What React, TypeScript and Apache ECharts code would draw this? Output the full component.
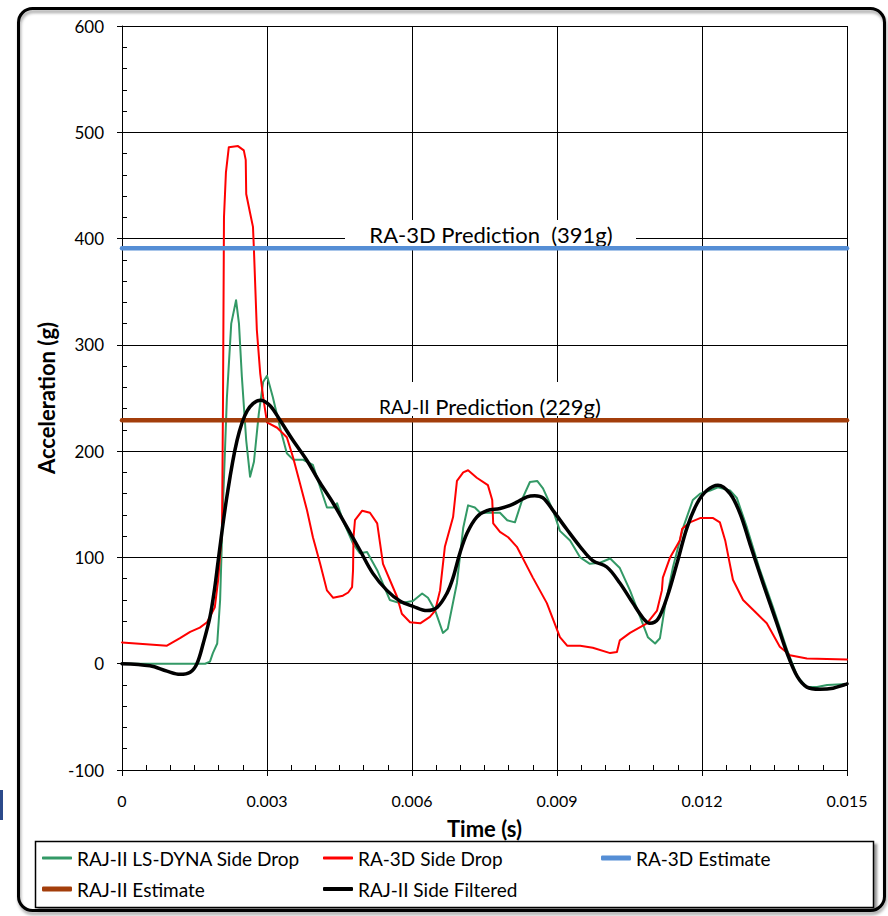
import React, { useEffect, useRef } from "react";
import * as echarts from "echarts";

// ---- Data (time in s, acceleration in g) ----
const xTickValues = [0, 0.003, 0.006, 0.009, 0.012, 0.015];
const yTickValues = [-100, 0, 100, 200, 300, 400, 500, 600];

const greenT = [0, 0.00172, 0.00182, 0.00188, 0.00197, 0.00203, 0.00209, 0.00217, 0.00226, 0.00236, 0.00242, 0.00248, 0.00257, 0.00265, 0.00273, 0.00283, 0.00292, 0.003, 0.00312, 0.00327, 0.00341, 0.00354, 0.00374, 0.00395, 0.0041, 0.00424, 0.00437, 0.00445, 0.00457, 0.00478, 0.00492, 0.00507, 0.00528, 0.00554, 0.00575, 0.00602, 0.00621, 0.00633, 0.00648, 0.00664, 0.00674, 0.00693, 0.00706, 0.00716, 0.0073, 0.00741, 0.00761, 0.00782, 0.00797, 0.00813, 0.0083, 0.00844, 0.00859, 0.00871, 0.00892, 0.00906, 0.00927, 0.00948, 0.00968, 0.00989, 0.0101, 0.0103, 0.01051, 0.01072, 0.01088, 0.01103, 0.01113, 0.01123, 0.0114, 0.01161, 0.01181, 0.01196, 0.01217, 0.01233, 0.01258, 0.01272, 0.01293, 0.0132, 0.01347, 0.01376, 0.01397, 0.01417, 0.01438, 0.01459, 0.015];
const greenV = [0, 0, 2, 10, 19, 60, 150, 250, 320, 342, 320, 270, 210, 176, 190, 235, 265, 271, 251, 222, 198, 192, 192, 187, 166, 147, 147, 151, 135, 113, 104, 105, 88, 60, 57, 59, 66, 62, 50, 29, 33, 76, 128, 149, 147, 142, 142, 142, 135, 133, 157, 171, 172, 165, 144, 125, 116, 100, 94, 95, 99, 90, 69, 44, 25, 19, 24, 53, 91, 128, 154, 160, 163, 166, 163, 156, 128, 88, 53, 13, -12, -22, -22, -20, -19];

const redT = [0, 0.00093, 0.0012, 0.00141, 0.00161, 0.00176, 0.00192, 0.00199, 0.00207, 0.00209, 0.00211, 0.00215, 0.00221, 0.0024, 0.00252, 0.00256, 0.00257, 0.00265, 0.00271, 0.00273, 0.00279, 0.00286, 0.00292, 0.003, 0.00321, 0.00341, 0.00354, 0.00368, 0.00383, 0.00395, 0.0041, 0.00424, 0.00437, 0.00457, 0.00468, 0.00476, 0.00478, 0.00479, 0.00482, 0.00497, 0.00513, 0.00528, 0.00534, 0.0054, 0.00554, 0.00569, 0.00579, 0.00596, 0.00617, 0.00637, 0.00648, 0.00658, 0.00668, 0.00685, 0.00693, 0.00706, 0.00716, 0.00734, 0.00757, 0.00766, 0.00768, 0.00782, 0.00799, 0.00817, 0.0085, 0.00879, 0.00906, 0.00921, 0.00948, 0.00974, 0.0101, 0.01024, 0.0103, 0.01051, 0.01086, 0.01107, 0.01117, 0.01119, 0.01134, 0.01154, 0.01159, 0.01175, 0.01196, 0.01223, 0.01237, 0.01248, 0.01264, 0.01285, 0.01314, 0.01334, 0.01361, 0.01382, 0.01417, 0.015];
const redV = [20, 17, 24, 30, 34, 39, 53, 79, 126, 250, 420, 462, 486, 487, 483, 474, 442, 424, 411, 389, 314, 273, 251, 227, 222, 213, 194, 170, 144, 119, 94, 69, 62, 64, 67, 72, 88, 119, 135, 144, 142, 132, 113, 94, 79, 63, 47, 39, 38, 44, 50, 69, 110, 138, 172, 180, 182, 175, 168, 154, 132, 124, 119, 110, 81, 57, 25, 17, 17, 15, 10, 11, 22, 29, 38, 50, 69, 81, 100, 116, 127, 133, 137, 137, 133, 116, 79, 60, 47, 38, 16, 8, 5, 4];

const blackT = [0, 0.00058, 0.00093, 0.0012, 0.00141, 0.00155, 0.00168, 0.00182, 0.00192, 0.00199, 0.00217, 0.00238, 0.00259, 0.00286, 0.00306, 0.00327, 0.00354, 0.00383, 0.0041, 0.00437, 0.00466, 0.00492, 0.00519, 0.00548, 0.00575, 0.00602, 0.00631, 0.00652, 0.00672, 0.00685, 0.00699, 0.00714, 0.00734, 0.00755, 0.00782, 0.00803, 0.00817, 0.00838, 0.00854, 0.00871, 0.00892, 0.00921, 0.00948, 0.00974, 0.01003, 0.0103, 0.01057, 0.01078, 0.01092, 0.01109, 0.01128, 0.01148, 0.01169, 0.0119, 0.0121, 0.01233, 0.01258, 0.01279, 0.01299, 0.01326, 0.01355, 0.01376, 0.01397, 0.01417, 0.01444, 0.01471, 0.015];
const blackV = [0, -2, -7, -10, -8, 0, 19, 44, 72, 97, 157, 210, 238, 248, 243, 229, 210, 191, 170, 151, 128, 107, 85, 69, 59, 54, 50, 53, 66, 81, 104, 123, 138, 144, 146, 149, 152, 157, 158, 156, 144, 126, 110, 97, 91, 76, 57, 43, 38, 42, 63, 94, 128, 151, 163, 168, 160, 141, 113, 76, 38, 10, -12, -22, -24, -23, -19];

const ra3dEstimate = 391;
const rajEstimate = 229;

const seriesNames = [
  "RAJ-II LS-DYNA Side Drop",
  "RA-3D Side Drop",
  "RA-3D Estimate",
  "RAJ-II Estimate",
  "RAJ-II Side Filtered",
];
const seriesColors = ["#339966", "#ff0000", "#558ED5", "#A33E0B", "#000000"];

const zip = (t: number[], v: number[]) => t.map((x, i) => [x, v[i]]);

export default function App() {
  const ref = useRef<HTMLDivElement>(null);
  useEffect(() => {
    if (!ref.current) return;
    const chart = echarts.init(ref.current, undefined, { renderer: "svg" });
    const font = "Lato";
    const xMin = xTickValues[0];
    const xMax = xTickValues[xTickValues.length - 1];
    const yMin = yTickValues[0];
    const yMax = yTickValues[yTickValues.length - 1];

    const lineSeries = (i: number, data: number[][], width: number, smooth: number | boolean) => ({
      name: seriesNames[i],
      type: "line",
      data,
      symbol: "none",
      showSymbol: false,
      smooth,
      color: seriesColors[i],
      itemStyle: { color: seriesColors[i] },
      lineStyle: { color: seriesColors[i], width, join: "round", cap: "round" },
      z: 2 + i,
    });

    const legendItem = (i: number, left: number, top: number, h: number) => ({
      show: true,
      data: [{ name: seriesNames[i], icon: "roundRect" }],
      left,
      top,
      padding: 0,
      itemWidth: 30,
      itemHeight: h,
      selectedMode: false,
      textStyle: { fontFamily: font, fontSize: 19, color: "#000", lineHeight: 20 },
    });

    const option: any = {
      animation: false,
      backgroundColor: "#ffffff",
      grid: { left: 122, right: 41, top: 26, bottom: 146, containLabel: false },
      xAxis: [
        {
          type: "value",
          min: xMin,
          max: xMax,
          interval: 0.003,
          position: "bottom",
          axisLine: { show: true, onZero: false, lineStyle: { color: "#000", width: 1 } },
          axisTick: { show: true, inside: true, length: 5, lineStyle: { color: "#000" } },
          minorTick: { show: true, splitNumber: 6, length: 5, lineStyle: { color: "#000" } },
          splitLine: { show: true, lineStyle: { color: "#000", width: 1 } },
          axisLabel: {
            margin: 22,
            fontFamily: font,
            fontSize: 16,
            color: "#000",
            formatter: (v: number) => (Math.abs(v) < 1e-12 ? "0" : v.toFixed(3)),
          },
          name: "Time (s)",
          nameLocation: "middle",
          nameGap: 47,
          nameTextStyle: { fontFamily: font, fontSize: 22, fontWeight: "bold", color: "#000" },
        },
        {
          type: "value",
          min: xMin,
          max: xMax,
          interval: 0.003,
          position: "bottom",
          axisLine: { show: false, onZero: false },
          axisTick: { show: true, inside: false, length: 6, lineStyle: { color: "#000" } },
          axisLabel: { show: false },
          splitLine: { show: false },
        },
      ],
      yAxis: [
        {
          type: "value",
          min: yMin,
          max: yMax,
          interval: 100,
          position: "left",
          axisLine: { show: true, onZero: false, lineStyle: { color: "#000", width: 1 } },
          axisTick: { show: true, inside: true, length: 5, lineStyle: { color: "#000" } },
          minorTick: { show: true, splitNumber: 5, length: 5, lineStyle: { color: "#000" } },
          splitLine: { show: true, lineStyle: { color: "#000", width: 1 } },
          axisLabel: { margin: 18, fontFamily: font, fontSize: 17, color: "#000" },
          name: "Acceleration (g)",
          nameLocation: "middle",
          nameGap: 62,
          nameTextStyle: { fontFamily: font, fontSize: 22, fontWeight: "bold", color: "#000" },
        },
        {
          type: "value",
          min: yMin,
          max: yMax,
          interval: 100,
          position: "left",
          axisLine: { show: false, onZero: false },
          axisTick: { show: true, inside: false, length: 5, lineStyle: { color: "#000" } },
          axisLabel: { show: false },
          splitLine: { show: false },
        },
      ],
      legend: [
        legendItem(0, 42, 848, 3),
        legendItem(1, 323, 848, 3),
        legendItem(2, 601, 848, 5),
        legendItem(3, 42, 879, 5),
        legendItem(4, 323, 879, 4),
      ],
      graphic: [
        {
          type: "rect",
          silent: true,
          z: -1,
          shape: { x: 18.5, y: 8.5, width: 866, height: 902, r: 14 },
          style: {
            fill: "none",
            stroke: "#000",
            lineWidth: 3,
            shadowBlur: 3,
            shadowOffsetX: 1,
            shadowOffsetY: 3,
            shadowColor: "rgba(0,0,0,0.35)",
          },
        },
        {
          type: "rect",
          silent: true,
          z: 1,
          shape: { x: 35.5, y: 841.5, width: 838, height: 66 },
          style: {
            fill: "#fff",
            stroke: "#000",
            lineWidth: 1.5,
            shadowBlur: 2,
            shadowOffsetX: 3,
            shadowOffsetY: 3,
            shadowColor: "rgba(0,0,0,0.4)",
          },
        },
        {
          type: "rect",
          silent: true,
          z: 1,
          shape: { x: 0, y: 790, width: 3, height: 30 },
          style: { fill: "#2B4A8B" },
        },
        {
          type: "rect",
          silent: true,
          z: 1,
          shape: { x: 345, y: 220, width: 291, height: 26 },
          style: { fill: "#fff" },
        },
        {
          type: "text",
          silent: true,
          z: 1,
          x: 491,
          y: 234,
          style: {
            text: "RA-3D Prediction  (391g)",
            fill: "#000",
            fontFamily: font,
            fontSize: 22,
            align: "center",
            verticalAlign: "middle",
          },
        },
        {
          type: "rect",
          silent: true,
          z: 1,
          shape: { x: 357, y: 382, width: 267, height: 34 },
          style: { fill: "#fff" },
        },
        {
          type: "text",
          silent: true,
          z: 1,
          x: 490,
          y: 406,
          style: {
            text: "{a|RAJ-II} {b|Prediction (229g)}",
            fill: "#000",
            fontFamily: font,
            fontSize: 22,
            align: "center",
            verticalAlign: "middle",
            rich: {
              a: { fontFamily: font, fontSize: 19, fill: "#000" },
              b: { fontFamily: font, fontSize: 22, fill: "#000" },
            },
          },
        },
      ],
      series: [
        lineSeries(0, zip(greenT, greenV), 2, false),
        lineSeries(1, zip(redT, redV), 2, false),
        lineSeries(2, [[xMin, ra3dEstimate], [xMax, ra3dEstimate]], 4.5, false),
        lineSeries(3, [[xMin, rajEstimate], [xMax, rajEstimate]], 4.5, false),
        lineSeries(4, zip(blackT, blackV), 3.5, 0.35),
      ],
    };
    chart.setOption(option);
    return () => chart.dispose();
  }, []);
  return (
    <div
      ref={ref}
      style={{ position: "fixed", left: 0, top: 0, width: 888, height: 916, background: "#fff" }}
    />
  );
}
